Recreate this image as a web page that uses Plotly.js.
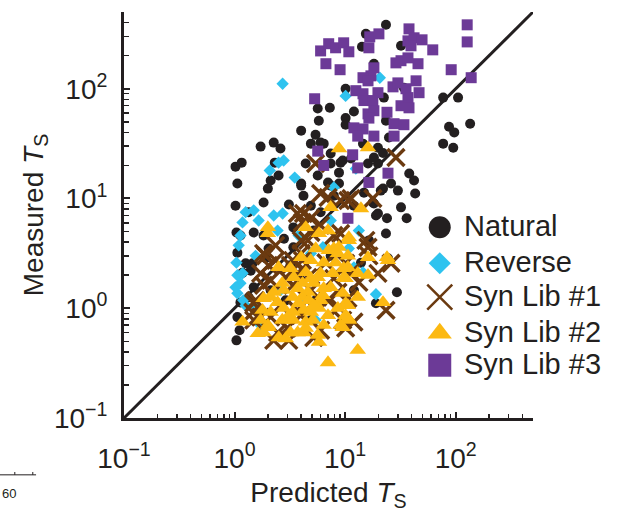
<!DOCTYPE html>
<html>
<head>
<meta charset="utf-8">
<script src="https://cdn.plot.ly/plotly-3.0.1.min.js"></script>
<style>html,body{margin:0;padding:0;background:#fff;}#chart{width:621px;height:512px;}</style>
</head>
<body>
<div id="chart"></div>
<script>
// ---- data (predicted, measured) ----
var natural = [
 [23.4,382],[15.4,316],[14.2,241],[32,246],[18.2,169],[10.1,100],[5.65,66],[7.27,67],[12,62],[10.1,54],
 [10.1,47],[5.78,51],[22.4,83],[23.4,51],[34,102],[77,83],[105,83],[87,45],[97,40],[135,48],
 [77,31.6],[95,29],[5.4,38],[4.9,31.6],[6.4,31.6],[4.0,41.5],[4.4,20.8],[7.4,20.8],[9.5,22.2],[14.5,31.6],
 [19.8,29],[22,26],[24.9,36],[19.8,20.8],[16.1,20.8],[4.0,13.7],[7.0,14],[8.8,13.7],[21,11.8],[26,13.7],
 [30,11.8],[38,16.9],[42,14.6],[43,11.1],[18.2,9.0],[19.8,7.3],[23.9,6.6],[32,8.3],[36,6.6],[23.4,4.8],
 [12,8.6],[18.2,23.6],[11.3,23.1],[22,12.3],[14.8,11.3],[17.8,9.2],[19,7.0],
 [6.0,32.3],[2.26,32.3],[2.6,28.5],[1.72,29.7],[1.02,19.5],[1.16,21.2],[2.31,21.2],[2.5,16.2],[2.12,14.6],[1.06,13.7],
 [2.0,12.3],[4.0,13.1],[5.65,16.2],[7.4,25.7],[9.1,21.2],[8.8,17.2],[7.4,13.1],[1.83,9.2],[1.02,8.6],[3.1,8.8],
 [1.34,7.5],[4.2,10.6],[7.9,10.6],[1.04,4.9],[1.13,4.6],[1.49,4.9],[2.8,4.3],[1.83,4.6],[3.4,5.45],[4.9,8.6],
 [6.0,7.5],[5.2,5.1],[2.03,3.5],[3.4,3.6],
 [1.06,3.2],[1.26,2.57],[1.4,2.2],[1.06,0.83],[1.11,0.63],[1.04,0.51],[1.13,1.13],[1.34,1.26],[1.49,1.55],[1.18,2.1],
 [1.46,2.57],[1.91,2.85],[29.4,1.40],[19,1.11],[24.4,2.85],[12,1.46],[10.6,1.13],[16.4,4.15],
 [3.2,2.46],[4.0,1.8],[7.4,3.0],[5.4,1.18],[2.9,1.18],[10.1,2.2],[13.9,2.6],[2.12,1.46],[4.9,0.78]
];
var reverse = [
 [2.72,111],[10.1,86],[20.6,126],[7.9,12.6],[12.5,18.7],[7.4,6.3],[13.3,5.1],[10.8,3.5],[2.78,22.2],[2.5,21.2],
 [2.08,18],[3.5,15.5],[1.49,7.8],[1.26,7.5],[1.18,6.05],[1.65,6.3],[2.26,7.0],[2.72,7.3],[2.45,5.1],[1.13,4.6],
 [3.8,4.6],[1.06,2.0],[1.13,1.69],[1.06,1.37],[1.26,1.06],[1.55,1.02],[1.09,3.74],[1.55,3.0],[1.18,2.08],[1.02,1.55],
 [2.6,1.46],[4.9,3.16],[6.3,3.6],[5.4,0.78],[14.5,2.12],[12,2.36],[19,1.34],[4.0,1.18],[1.72,0.70],[1.04,2.6],[1.2,1.18]
];
var synLib1 = [
 [28.8,23.6],[5.4,20.8],[6.0,11.1],[7.0,10.2],[10.6,9.6],[17.8,10],[9.1,9.6],[4.2,7.3],[4.9,6.6],[16.1,3.6],
 [9.1,4.8],[4.0,4.15],[4.6,4.15],[3.7,7.3],[4.1,6.05],[4.9,4.9],[6.0,5.7],[7.9,4.6],[11.3,10],[15.4,4.15],
 [1.91,3.0],[2.03,2.46],[1.72,2.08],[1.83,1.62],[2.9,1.91],[3.36,1.62],[2.12,0.83],[1.72,0.83],[1.49,0.78],[1.46,0.92],
 [2.45,0.6],[3.0,0.66],[4.1,2.73],[4.6,1.91],[5.65,1.26],[6.0,0.63],[4.0,3.16],[7.9,1.87],[8.6,1.40],[5.2,0.54],
 [2.6,1.06],[3.7,0.96],[16.4,3.0],[10.1,2.57],[19.8,2.08],[26,2.57],[11.3,2.12],[13.3,1.72],[10.6,1.23],[23.4,0.96],
 [12,0.75],[9.5,0.78],[10.1,0.66],[2.35,3.74],[3.2,2.46],[6.7,2.6],[1.55,1.18],
 [1.83,3.16],[2.35,2.73],[2.12,1.8],[3.36,2.73],[4.13,2.31],[1.49,1.11],[3.97,0.86],[3.09,0.51],[2.26,0.51],[8.77,1.02],
 [6.97,1.18],[4.89,1.46]
];
var synLib2 = [
 [8.8,28.5],[16.1,29],[7.4,8.3],[13.9,8.1],[4.4,5.45],[7.0,5.1],[10.8,4.4],[7.9,3.5],[23.9,2.9],[2.0,5.45],
 [2.0,4.8],[5.8,4.8],[7.1,3.37],[8.6,3.16],[4.0,2.9],[2.5,2.36],[3.2,2.31],[6.4,2.6],[9.7,2.31],[4.4,2.12],
 [4.9,1.87],[5.65,1.91],[7.7,2.08],[2.7,1.69],[4.6,1.40],[6.4,1.52],[7.4,1.55],[10.1,1.87],[2.12,1.26],[1.83,1.23],
 [2.45,1.13],[3.36,1.26],[4.1,1.26],[4.7,1.18],[6.0,1.18],[10.1,1.11],[1.79,0.96],[2.12,0.92],[2.78,1.0],[3.36,0.92],
 [4.2,0.96],[4.9,0.92],[5.8,1.0],[1.72,0.78],[2.0,0.70],[2.7,0.78],[3.4,0.78],[4.4,0.75],[5.1,0.78],[6.4,0.70],
 [9.1,0.70],[10.8,0.78],[1.83,0.6],[3.2,0.6],[4.2,0.6],[5.65,0.57],[5.8,0.49],[7.0,0.32],[1.18,0.75],[10.8,4.15],
 [16.1,2.9],[24.4,2.73],[10.6,2.36],[13,2.08],[16.1,2.0],[9.7,1.91],[13,1.26],[22,1.13],[10.6,1.06],[10.6,0.81],
 [9.5,0.67],[13,0.415],
 [2.26,1.40],[3.72,1.52],[3.02,0.83],[3.8,1.11],[5.2,1.69],[8.6,1.0],[10.1,0.86],[7.0,0.86],[4.4,0.66],[3.72,0.6],
 [2.51,0.54],[1.62,0.59],[2.03,0.67],[2.9,0.53],[8.2,2.6],[9.5,1.37],[10.6,3.0],[6.0,2.08],[4.13,1.69],[3.43,1.91],
 [2.78,1.46],[4.89,2.73],[8.77,3.6],[5.42,3.5],[6.28,1.31],[5.2,1.06]
];
var synLib3 = [
 [6.0,221],[7.1,257],[8.2,236],[9.7,262],[10.8,217],[6.7,169],[9.0,149],[16.7,297],[20.2,316],[16.4,236],
 [37.8,351],[37,273],[42,291],[49.6,279],[39.4,246],[62,226],[127,382],[127,267],[91,149],[138,126],
 [28.8,172],[32,180],[45.6,169],[37,191],[18.2,155],[17.1,131],[14.5,126],[16.1,118],[5.3,81],[12.5,96],
 [14.5,90],[19.8,92],[14.8,78],[17.8,78],[27.1,104],[30,113],[35.5,100],[43.8,118],[46.6,92],[37,83],
 [32,70],[37.8,67],[23.9,61],[16.1,59],[18.2,63],[16.4,54],[27.7,48],[34,47],[12,44],[14.5,43],
 [13,37],[18.2,37],[27.7,37],[5.65,27],[11.7,25],[6.4,20],[13,19],[24.4,17],[16.4,14],[10.6,6.6]
];
var seriesNames = ['Natural', 'Reverse', 'Syn Lib #1', 'Syn Lib #2', 'Syn Lib #3'];
var diagonal = [0.1, 500];
var majorTicks = [0.1, 1, 10, 100];
var majorLabels = ['10<sup>\u22121</sup>', '10<sup>0</sup>', '10<sup>1</sup>', '10<sup>2</sup>'];
var minorTicks = [0.2,0.3,0.4,0.5,0.6,0.7,0.8,0.9,2,3,4,5,6,7,8,9,20,30,40,50,60,70,80,90,200,300,400,500];

// ---- styles ----
var INK = '#231f20';
var colors = ['#231f20', '#2ec3ef', '#6b3a10', '#fcb912', '#6c3a97'];
var symbols = ['circle', 'diamond', 'x-thin', 'triangle-up', 'square'];
var sizes = [10, 9.5, 17, 14.5, 11];
var legendSizes = [22, 17, 25, 21, 23];
var FONT = 'Liberation Sans, Arial, Helvetica, sans-serif';

function col(a, i) { return a.map(function (p) { return p[i]; }); }
var groups = [natural, reverse, synLib1, synLib2, synLib3];

var traces = [{
  x: diagonal, y: diagonal, mode: 'lines', type: 'scatter',
  line: { color: INK, width: 3 }, showlegend: false, hoverinfo: 'skip'
}];
groups.forEach(function (g, k) {
  var isX = symbols[k] === 'x-thin';
  traces.push({
    x: col(g, 0), y: col(g, 1), mode: 'markers', type: 'scatter', name: seriesNames[k],
    showlegend: false,
    marker: {
      symbol: symbols[k], size: sizes[k], color: colors[k],
      line: isX ? { color: colors[k], width: 3.4 } : { width: 0 }
    }
  });
});

// custom legend (overlay axes in [0,1] coordinates)
var legX = 0.772;
var legY = [0.470, 0.381, 0.298, 0.209, 0.130];
var annotations = [];
seriesNames.forEach(function (n, k) {
  var isX = symbols[k] === 'x-thin';
  traces.push({
    x: [legX], y: [legY[k]], xaxis: 'x2', yaxis: 'y2', mode: 'markers', type: 'scatter',
    showlegend: false, hoverinfo: 'skip',
    marker: {
      symbol: symbols[k], size: legendSizes[k], color: colors[k],
      line: isX ? { color: colors[k], width: 2.5 } : { width: 0 }
    }
  });
  annotations.push({
    text: n, xref: 'paper', yref: 'paper', x: 0.826, y: legY[k] + 0.003,
    xanchor: 'left', yanchor: 'middle', showarrow: false,
    font: { family: FONT, size: 29, color: INK }
  });
});
// fragment of neighbouring panel at bottom-left
annotations.push({
  text: '60', xref: 'paper', yref: 'paper', x: -0.302, y: -0.185,
  xanchor: 'left', yanchor: 'middle', showarrow: false,
  font: { family: FONT, size: 13, color: INK }
});

var axisCommon = {
  type: 'log', range: [-1, Math.log10(500)], autorange: false,
  showline: true, linewidth: 3, linecolor: INK, mirror: false,
  showgrid: false, zeroline: false,
  ticks: 'inside', ticklen: 6, tickwidth: 2, tickcolor: INK,
  tickmode: 'array', tickvals: majorTicks, ticktext: majorLabels,
  tickfont: { family: FONT, size: 28, color: INK },
  minor: { ticks: 'inside', ticklen: 4.5, tickwidth: 1.5, tickcolor: INK, tickmode: 'array', tickvals: minorTicks, showgrid: false }
};
var xaxis = Object.assign({}, axisCommon, {
  title: { text: 'Predicted <i>T</i><sub>S</sub>', font: { family: FONT, size: 28, color: INK }, standoff: 12 },
  ticklabelstandoff: 13
});
var yaxis = Object.assign({}, axisCommon, {
  title: { text: 'Measured <i>T</i><sub>S</sub>', font: { family: FONT, size: 28, color: INK }, standoff: 3 },
  ticklabelstandoff: 8
});

var layout = {
  width: 621, height: 512,
  margin: { l: 124, r: 88, t: 12, b: 94 },
  paper_bgcolor: '#fff', plot_bgcolor: '#fff',
  showlegend: false,
  xaxis: xaxis, yaxis: yaxis,
  xaxis2: { overlaying: 'x', anchor: 'y2', range: [0, 1], visible: false, fixedrange: true },
  yaxis2: { overlaying: 'y', anchor: 'x2', range: [0, 1], visible: false, fixedrange: true },
  annotations: annotations,
  shapes: [
    { type: 'line', xref: 'paper', yref: 'paper', x0: -0.304, x1: -0.215, y0: -0.140, y1: -0.140, line: { color: INK, width: 1 } },
    { type: 'line', xref: 'paper', yref: 'paper', x0: -0.267, x1: -0.267, y0: -0.140, y1: -0.133, line: { color: INK, width: 1 } },
    { type: 'line', xref: 'paper', yref: 'paper', x0: -0.223, x1: -0.223, y0: -0.140, y1: -0.133, line: { color: INK, width: 1 } }
  ],
  font: { family: FONT, color: INK }
};

Plotly.newPlot('chart', traces, layout, { displayModeBar: false, staticPlot: true });
</script>
</body>
</html>
